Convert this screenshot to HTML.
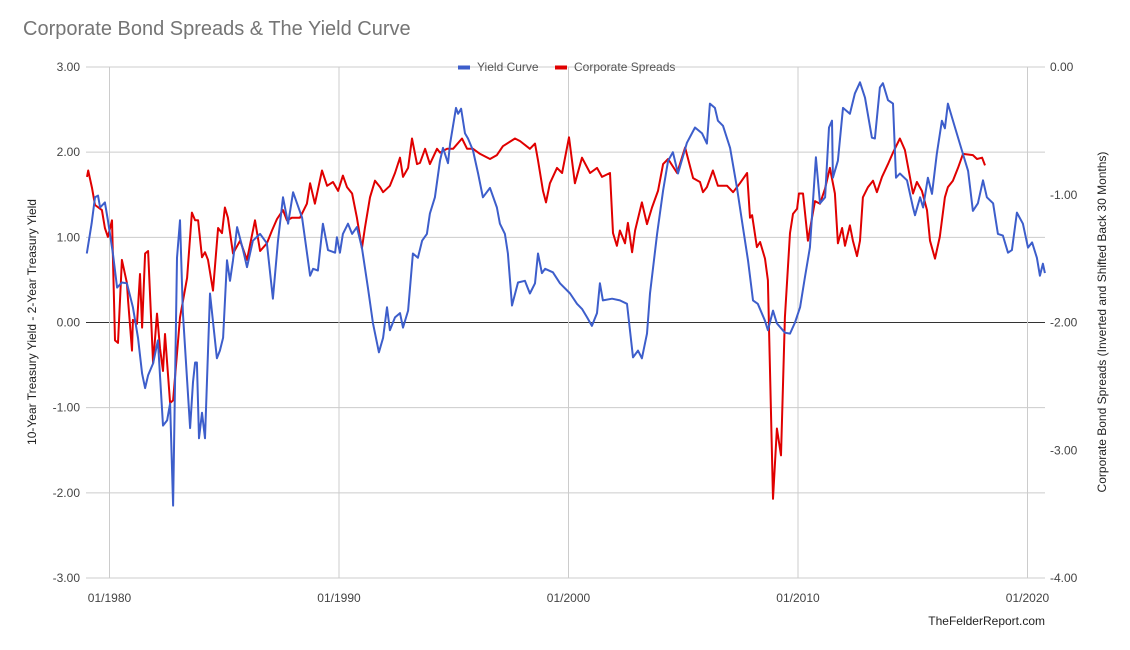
<!DOCTYPE html>
<html><head><meta charset="utf-8"><style>
html,body{margin:0;padding:0;background:#fff;}
svg{display:block;font-family:"Liberation Sans",Arial,sans-serif;}
</style></head><body>
<svg id="chart" width="1130" height="650" viewBox="0 0 1130 650">
<text x="23" y="35" font-size="20" fill="#757575">Corporate Bond Spreads &amp; The Yield Curve</text>
<g id="grid"></g>
<g id="series"></g>
<g id="legend">
<rect x="458" y="65.5" width="12" height="4" fill="#3d5ecb"/>
<text x="477" y="71" font-size="12" fill="#555">Yield Curve</text>
<rect x="555" y="65.5" width="12" height="4" fill="#e00000"/>
<text x="574" y="71" font-size="12" fill="#555">Corporate Spreads</text>
</g>
<text transform="translate(36,322) rotate(-90)" text-anchor="middle" font-size="12" fill="#222">10-Year Treasury Yield - 2-Year Treasury Yield</text>
<text transform="translate(1106,322) rotate(-90)" text-anchor="middle" font-size="12" fill="#222">Corporate Bond Spreads (Inverted and Shifted Back 30 Months)</text>
<text x="1045" y="625" text-anchor="end" font-size="12" fill="#222">TheFelderReport.com</text>
</svg>
<script>
const leftTicks=[3,2,1,0,-1,-2,-3];
const rightTicks=[0,-1,-2,-3,-4];
const xTickYears=[1980,1990,2000,2010,2020];
const xTickLabels=["01/1980","01/1990","01/2000","01/2010","01/2020"];
const yieldDates=[1979.01,1979.22,1979.37,1979.50,1979.59,1979.80,1979.93,1980.15,1980.33,1980.54,1980.76,1981.02,1981.24,1981.42,1981.55,1981.68,1981.90,1982.11,1982.33,1982.51,1982.64,1982.77,1982.94,1983.07,1983.20,1983.51,1983.64,1983.73,1983.81,1983.90,1984.03,1984.16,1984.38,1984.68,1984.81,1984.95,1985.12,1985.25,1985.38,1985.56,1985.82,1985.99,1986.25,1986.56,1986.86,1987.12,1987.34,1987.56,1987.78,1988.00,1988.21,1988.39,1988.74,1988.87,1989.08,1989.30,1989.52,1989.83,1989.91,1990.04,1990.17,1990.39,1990.57,1990.78,1991.00,1991.26,1991.48,1991.74,1991.92,1992.09,1992.22,1992.44,1992.66,1992.79,1993.01,1993.22,1993.44,1993.62,1993.83,1993.96,1994.18,1994.40,1994.53,1994.75,1994.84,1995.10,1995.19,1995.32,1995.49,1995.62,1995.84,1996.06,1996.27,1996.58,1996.88,1997.01,1997.23,1997.36,1997.54,1997.80,1998.10,1998.32,1998.54,1998.67,1998.84,1998.98,1999.32,1999.63,2000.07,2000.37,2000.59,2000.81,2001.02,2001.24,2001.37,2001.50,2001.90,2002.24,2002.55,2002.81,2003.03,2003.20,2003.42,2003.55,2003.86,2004.12,2004.34,2004.55,2004.77,2005.16,2005.51,2005.82,2006.03,2006.16,2006.38,2006.51,2006.73,2007.04,2007.34,2007.60,2007.82,2008.04,2008.25,2008.56,2008.69,2008.91,2009.08,2009.43,2009.65,2009.87,2010.09,2010.30,2010.52,2010.78,2010.96,2011.18,2011.35,2011.48,2011.52,2011.74,2011.96,2012.26,2012.48,2012.70,2012.92,2013.22,2013.35,2013.57,2013.70,2013.92,2014.14,2014.27,2014.44,2014.75,2015.01,2015.10,2015.32,2015.45,2015.66,2015.84,2016.05,2016.27,2016.40,2016.53,2016.84,2017.14,2017.41,2017.62,2017.84,2018.06,2018.23,2018.50,2018.71,2018.93,2019.15,2019.32,2019.54,2019.80,2020.02,2020.20,2020.41,2020.54,2020.67,2020.76];
const yieldValues=[0.81,1.16,1.47,1.49,1.35,1.41,1.20,0.81,0.41,0.47,0.46,0.18,-0.18,-0.60,-0.77,-0.62,-0.48,-0.21,-1.21,-1.15,-0.95,-2.15,0.76,1.20,0.11,-1.24,-0.70,-0.47,-0.47,-1.36,-1.06,-1.36,0.34,-0.42,-0.33,-0.18,0.73,0.49,0.73,1.12,0.85,0.65,0.96,1.04,0.93,0.28,0.96,1.47,1.16,1.53,1.37,1.23,0.55,0.63,0.61,1.16,0.85,0.82,1.00,0.82,1.04,1.16,1.04,1.12,0.88,0.41,-0.01,-0.35,-0.18,0.18,-0.09,0.06,0.11,-0.06,0.14,0.81,0.76,0.96,1.04,1.28,1.47,1.90,2.05,1.87,2.10,2.52,2.45,2.51,2.22,2.16,2.02,1.75,1.47,1.58,1.35,1.16,1.04,0.81,0.20,0.47,0.49,0.34,0.46,0.81,0.58,0.63,0.59,0.46,0.34,0.22,0.16,0.06,-0.04,0.11,0.46,0.26,0.28,0.26,0.22,-0.41,-0.33,-0.42,-0.13,0.34,1.04,1.55,1.90,2.00,1.75,2.11,2.29,2.22,2.10,2.57,2.52,2.37,2.31,2.05,1.58,1.12,0.73,0.26,0.22,0.02,-0.09,0.14,-0.01,-0.12,-0.13,0.00,0.18,0.53,0.88,1.94,1.40,1.47,2.29,2.37,1.70,1.90,2.52,2.45,2.69,2.82,2.64,2.17,2.16,2.76,2.81,2.61,2.57,1.70,1.75,1.67,1.35,1.26,1.47,1.35,1.70,1.51,1.98,2.37,2.28,2.57,2.29,2.02,1.78,1.31,1.40,1.67,1.47,1.40,1.04,1.02,0.82,0.85,1.29,1.16,0.88,0.94,0.76,0.55,0.69,0.58];
const spreadDates=[1979.02,1979.07,1979.24,1979.37,1979.67,1979.80,1979.93,1980.11,1980.24,1980.37,1980.54,1980.76,1980.81,1980.98,1981.02,1981.20,1981.33,1981.42,1981.55,1981.68,1981.90,1982.07,1982.20,1982.33,1982.42,1982.64,1982.77,1983.07,1983.38,1983.59,1983.73,1983.86,1984.03,1984.16,1984.29,1984.51,1984.73,1984.90,1985.03,1985.16,1985.38,1985.69,1985.99,1986.34,1986.56,1986.86,1987.08,1987.30,1987.56,1987.73,1987.95,1988.30,1988.60,1988.74,1988.95,1989.26,1989.48,1989.74,1989.96,1990.17,1990.35,1990.57,1990.78,1991.00,1991.13,1991.35,1991.57,1991.79,1991.92,1992.22,1992.44,1992.66,1992.79,1993.01,1993.18,1993.40,1993.53,1993.75,1993.96,1994.27,1994.40,1994.71,1994.97,1995.36,1995.58,1995.84,1996.15,1996.58,1996.88,1997.14,1997.67,1997.89,1998.32,1998.54,1998.67,1998.89,1999.02,1999.19,1999.50,1999.72,2000.02,2000.28,2000.59,2000.94,2001.24,2001.46,2001.81,2001.94,2002.11,2002.24,2002.46,2002.59,2002.77,2002.90,2003.20,2003.42,2003.64,2003.90,2004.12,2004.34,2004.73,2005.08,2005.43,2005.73,2005.86,2006.03,2006.29,2006.51,2006.91,2007.17,2007.47,2007.78,2007.91,2008.00,2008.21,2008.35,2008.56,2008.69,2008.87,2008.91,2009.08,2009.26,2009.43,2009.65,2009.78,2009.96,2010.04,2010.22,2010.43,2010.74,2010.96,2011.18,2011.39,2011.61,2011.74,2011.92,2012.05,2012.26,2012.39,2012.57,2012.70,2012.83,2013.05,2013.27,2013.44,2013.66,2013.92,2014.14,2014.44,2014.66,2015.01,2015.18,2015.40,2015.62,2015.75,2015.97,2016.18,2016.40,2016.53,2016.75,2016.97,2017.19,2017.62,2017.80,2018.02,2018.15];
const spreadValues=[-0.86,-0.81,-0.95,-1.08,-1.12,-1.26,-1.33,-1.20,-2.14,-2.16,-1.51,-1.69,-1.83,-2.22,-1.98,-2.01,-1.62,-2.04,-1.46,-1.44,-2.32,-1.93,-2.20,-2.38,-2.09,-2.63,-2.61,-1.96,-1.65,-1.14,-1.20,-1.20,-1.49,-1.45,-1.51,-1.75,-1.26,-1.30,-1.10,-1.18,-1.46,-1.36,-1.51,-1.20,-1.44,-1.38,-1.28,-1.19,-1.12,-1.20,-1.18,-1.18,-1.07,-0.91,-1.07,-0.81,-0.93,-0.90,-0.97,-0.85,-0.94,-0.99,-1.18,-1.42,-1.26,-1.02,-0.89,-0.94,-0.98,-0.93,-0.83,-0.71,-0.86,-0.79,-0.56,-0.76,-0.75,-0.64,-0.76,-0.64,-0.67,-0.64,-0.64,-0.56,-0.64,-0.64,-0.68,-0.72,-0.69,-0.62,-0.56,-0.58,-0.64,-0.60,-0.73,-0.97,-1.06,-0.91,-0.79,-0.83,-0.55,-0.91,-0.71,-0.83,-0.79,-0.86,-0.83,-1.30,-1.40,-1.28,-1.38,-1.22,-1.45,-1.28,-1.06,-1.23,-1.10,-0.97,-0.76,-0.72,-0.83,-0.63,-0.87,-0.90,-0.98,-0.94,-0.81,-0.93,-0.93,-0.98,-0.91,-0.83,-1.18,-1.16,-1.41,-1.37,-1.50,-1.67,-3.08,-3.38,-2.83,-3.04,-1.96,-1.30,-1.15,-1.11,-0.99,-0.99,-1.36,-1.05,-1.07,-0.95,-0.79,-0.99,-1.38,-1.26,-1.40,-1.24,-1.36,-1.48,-1.36,-1.02,-0.94,-0.89,-0.98,-0.86,-0.76,-0.67,-0.56,-0.65,-0.99,-0.90,-0.97,-1.12,-1.36,-1.50,-1.33,-1.02,-0.94,-0.89,-0.79,-0.68,-0.69,-0.72,-0.71,-0.77];

const NS='http://www.w3.org/2000/svg';
const PL=86, PR=1045, PT=67, PB=578;
function xScale(yr){return 109.5+(yr-1980)*22.95;}
function yLeft(v){return PT+(3-v)*(PB-PT)/6;}
function yRight(v){return PT+(0-v)*(PB-PT)/4;}
function mk(tag,attrs,parent){const e=document.createElementNS(NS,tag);for(const k in attrs)e.setAttribute(k,attrs[k]);parent.appendChild(e);return e;}
const grid=document.getElementById('grid');
const series=document.getElementById('series');
leftTicks.forEach(v=>{
  const y=yLeft(v);
  const ln=mk('line',{x1:PL,x2:PR,y1:y,y2:y,stroke:v===0?'#333':'#cccccc','stroke-width':1},grid);
  
  
  const t=mk('text',{x:80,y:y+4,'text-anchor':'end','font-size':12,fill:'#444'},grid);
  t.textContent=v.toFixed(2);
  
  
});
rightTicks.forEach(v=>{
  const y=yRight(v);
  const t=mk('text',{x:1050,y:y+4,'text-anchor':'start','font-size':12,fill:'#444'},grid);
  t.textContent=v.toFixed(2);
  
  
});
xTickYears.forEach((yr,i)=>{
  const x=xScale(yr);
  const ln=mk('line',{x1:x,x2:x,y1:PT,y2:PB,stroke:'#cccccc','stroke-width':1},grid);
  
  
  const t=mk('text',{x:x,y:602,'text-anchor':'middle','font-size':12,fill:'#444'},grid);
  t.textContent=xTickLabels[i];
  
  
});
function pathFrom(dates,vals,ys){return dates.map((d,i)=>(i?'L':'M')+xScale(d).toFixed(1)+','+ys(vals[i]).toFixed(1)).join(' ');}
const red=mk('path',{d:pathFrom(spreadDates,spreadValues,yRight),fill:'none',stroke:'#e00000','stroke-width':2,'stroke-linejoin':'round'},series);


const blue=mk('path',{d:pathFrom(yieldDates,yieldValues,yLeft),fill:'none',stroke:'#3d5ecb','stroke-width':2,'stroke-linejoin':'round'},series);


</script>
</body></html>
